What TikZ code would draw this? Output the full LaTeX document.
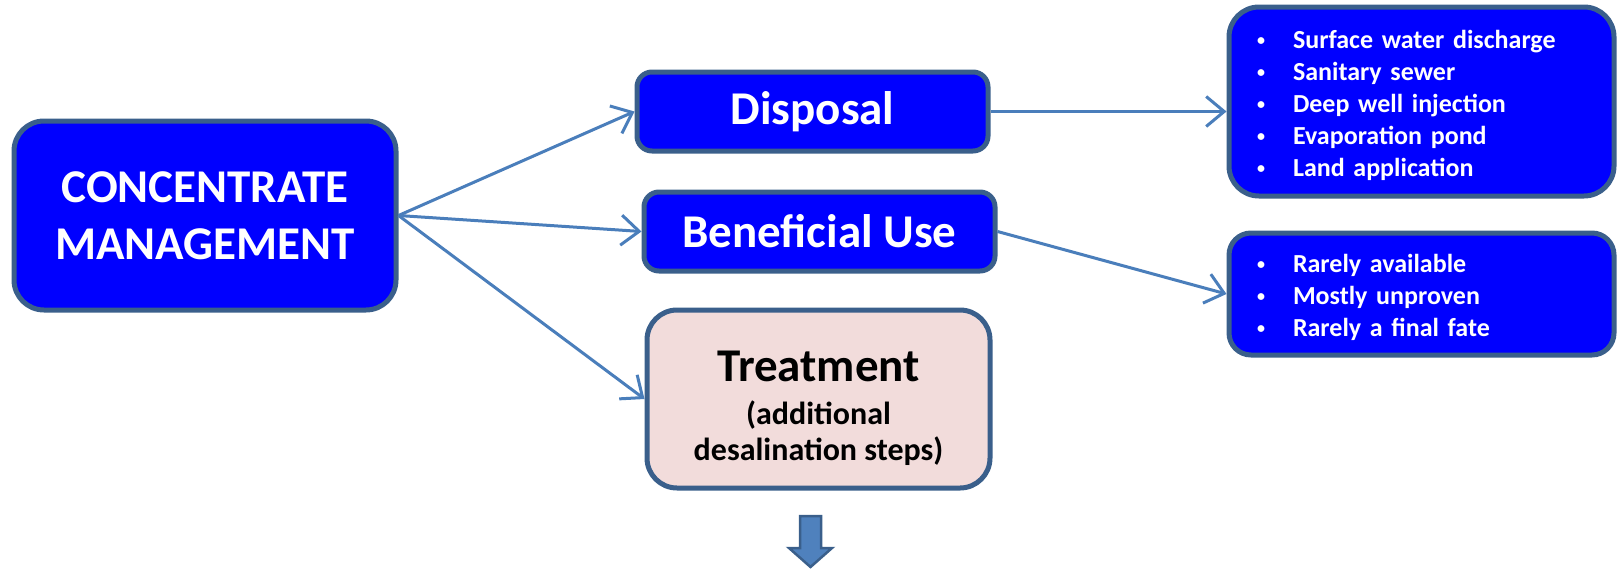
\documentclass[tikz,border=0pt]{standalone}
\usepackage{fontspec}
\setmainfont{Carlito}
\usetikzlibrary{arrows.meta}

\definecolor{boxblue}{HTML}{0000FF}
\definecolor{boxedge}{HTML}{3A5F8B}
\definecolor{linkblue}{HTML}{4A7EBB}
\definecolor{treatpink}{HTML}{F2DCDB}
\definecolor{arrowfill}{HTML}{4F81BD}

\newcommand{\blt}{\makebox[36pt][l]{\raisebox{3pt}{\fontsize{16}{16}\selectfont\textbullet}}}
\newcommand{\subfont}{\fontsize{32}{36}\selectfont}

\tikzset{
  mainbox/.style={draw=boxedge, line width=5pt, fill=boxblue, text=white,
    font=\bfseries\fontsize{47}{57}\selectfont, align=center, inner sep=0pt},
  listbox/.style={draw=boxedge, line width=5pt, fill=boxblue, text=white,
    font=\bfseries\fontsize{26}{32}\selectfont, align=left,
    inner xsep=28pt, inner ysep=0pt, text width=329pt, minimum width=385pt},
  link/.style={draw=linkblue, line width=3pt, -{Straight Barb[length=18pt,width=30pt]}}
}

\begin{document}
\begin{tikzpicture}[x=1pt,y=-1pt]
  \useasboundingbox (0,0) rectangle (1619,571);

  % draw the boxes
  \node[mainbox, rounded corners=30pt, minimum width=382pt, minimum height=189pt] (cm) at (205,215.5) {CONCENTRATE\\MANAGEMENT};
  \node[mainbox, rounded corners=15pt, minimum width=351pt, minimum height=79pt] (disp) at (812.5,111.5) {Disposal};
  \node[mainbox, rounded corners=15pt, minimum width=351pt, minimum height=79pt] (ben) at (819.5,231.5) {Beneficial Use};
  \node[mainbox, fill=treatpink, text=black, rounded corners=30pt, minimum width=343pt, minimum height=178pt] (treat) at (818.5,399)
    {\rule{0pt}{54pt}Treatment\\[3pt]\subfont\begin{tabular}{@{}c@{}}(additional\\desalination steps)\end{tabular}};

  % draw the lists
  \node[listbox, rounded corners=30pt, minimum height=189pt] (dlist) at (1421.5,101.5)
    {\rule{0pt}{26pt}\blt Surface water discharge\\\blt Sanitary sewer\\\blt Deep well injection\\\blt Evaporation pond\\\blt Land application};
  \node[listbox, rounded corners=22pt, minimum height=122pt] (blist) at (1421.5,294)
    {\rule{0pt}{26pt}\blt Rarely available\\\blt Mostly unproven\\\blt Rarely a final fate};

  % draw the connectors
  \draw[link] (cm.east) -- (disp.west);
  \draw[link] (cm.east) -- (ben.west);
  \draw[link] (cm.east) -- (treat.west);
  \draw[link] (disp.east) -- (disp.east -| dlist.west);
  \draw[link] (ben.east) -- (blist.west);

  % draw the block arrow below the treatment box
  \filldraw[fill=arrowfill, draw=boxedge, line width=2.5pt] (800,516) -- (821,516) -- (821,548) -- (832,548)
    -- (810.5,567) -- (789,548) -- (800,548) -- cycle;
\end{tikzpicture}
\end{document}
